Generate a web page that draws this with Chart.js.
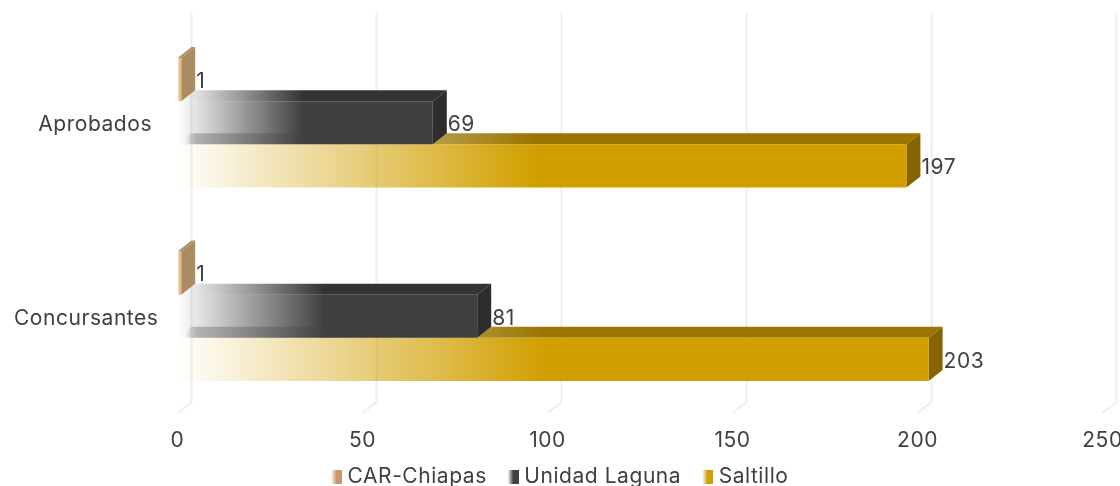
<!DOCTYPE html>
<html>
<head>
<meta charset="utf-8">
<style>
  html,body{margin:0;padding:0;background:#fff;}
  #wrap{width:1120px;height:486px;}
</style>
<script src="https://cdn.jsdelivr.net/npm/chart.js@4/dist/chart.umd.min.js"></script>
</head>
<body>
<div id="wrap"><canvas id="c" width="1120" height="486"></canvas></div>
<script>
var categories = ['Aprobados ', 'Concursantes'];
var carChiapas = [1, 1];
var unidadLaguna = [69, 81];
var saltillo = [197, 203];

var DX = 14, DY = 11, FADE = 0.49;
var FONT = {family: 'Inter', size: 21};
var SPACING = '0.55px';

function rgba(rgb, a){ return 'rgba(' + rgb.join(',') + ',' + a + ')'; }

function fade(ctx, x0, x1, rgb){
  var g = ctx.createLinearGradient(x0, 0, x1, 0);
  g.addColorStop(0, rgba(rgb, 0));
  g.addColorStop(FADE, rgba(rgb, 1));
  g.addColorStop(1, rgba(rgb, 1));
  return g;
}

function frontFill(rgb){
  return function(c){
    var xs = c.chart.scales.x;
    if(!xs || c.parsed === undefined) return rgba(rgb, 1);
    return fade(c.chart.ctx, xs.getPixelForValue(0), xs.getPixelForValue(c.parsed.x), rgb);
  };
}

function swatch(rgb){
  var cv = document.createElement('canvas');
  cv.width = 11; cv.height = 14;
  var x = cv.getContext('2d');
  x.fillStyle = fade(x, 0, 11, rgb);
  x.fillRect(0, 0, 11, 14);
  return cv;
}

var faces = [
  {front: [236, 190, 135], top: [176, 143, 100], side: [169, 140, 98], key: [196, 150, 105], floor: 0},
  {front: [64, 64, 64], top: [51, 51, 51], side: [45, 45, 45], key: [64, 64, 64], floor: 0.3},
  {front: [209, 159, 0], top: [154, 117, 0], side: [134, 101, 0], key: [209, 159, 0], floor: 0}
];

function quad(ctx, x0, x1, y){
  ctx.beginPath();
  ctx.moveTo(x0, y);
  ctx.lineTo(x1, y);
  ctx.lineTo(x1 + DX, y - DY);
  ctx.lineTo(x0 + DX, y - DY);
  ctx.closePath();
  ctx.fill();
}

function noPadding(s){
  s.paddingLeft = s.paddingRight = s.paddingTop = s.paddingBottom = 0;
}

var bars3d = {
  id: 'bars3d',
  beforeUpdate: function(chart){ chart.ctx.letterSpacing = SPACING; },
  afterLayout: function(chart){
    chart.legend.top = 440.5;
    chart.legend.left += 11;
    chart.legend.right += 11;
  },
  beforeDatasetsDraw: function(chart){
    var ctx = chart.ctx, xs = chart.scales.x, area = chart.chartArea;
    ctx.save();
    ctx.strokeStyle = '#eeeeee';
    ctx.lineWidth = 2;
    xs.ticks.forEach(function(t, i){
      var px = xs.getPixelForTick(i);
      ctx.beginPath();
      ctx.moveTo(px, area.bottom);
      ctx.lineTo(px + DX, area.bottom - DY);
      ctx.lineTo(px + DX, 13);
      ctx.stroke();
    });
    for(var d = chart.data.datasets.length - 1; d >= 0; d--){
      chart.getDatasetMeta(d).data.forEach(function(bar, i){
        var top = bar.y - bar.height / 2, bot = bar.y + bar.height / 2;
        // the bar above hides the start of this bar's top face
        var from = d > 0 ? chart.getDatasetMeta(d - 1).data[i].x : bar.base;
        ctx.fillStyle = fade(ctx, bar.base, bar.x, faces[d].top);
        quad(ctx, from, bar.x, top);
        if(faces[d].floor){
          var g = ctx.createLinearGradient(bar.base + 8, 0, bar.base + DX + 4, 0);
          g.addColorStop(0, rgba(faces[d].front, 0));
          g.addColorStop(1, rgba(faces[d].front, faces[d].floor));
          ctx.fillStyle = g;
          quad(ctx, bar.base, bar.x, bot);
        }
        ctx.fillStyle = rgba(faces[d].side, 1);
        ctx.beginPath();
        ctx.moveTo(bar.x, top);
        ctx.lineTo(bar.x + DX, top - DY);
        ctx.lineTo(bar.x + DX, bot - DY);
        ctx.lineTo(bar.x, bot);
        ctx.closePath();
        ctx.fill();
      });
    }
    ctx.restore();
  },
  afterDatasetsDraw: function(chart){
    var ctx = chart.ctx;
    ctx.save();
    ctx.fillStyle = '#404040';
    ctx.font = FONT.size + 'px ' + FONT.family;
    ctx.textAlign = 'left';
    ctx.textBaseline = 'middle';
    chart.data.datasets.forEach(function(ds, d){
      chart.getDatasetMeta(d).data.forEach(function(bar, i){
        ctx.fillText(ds.data[i], bar.x + DX + 1, bar.y + 2);
      });
    });
    ctx.restore();
  }
};

new Chart(document.getElementById('c'), {
  type: 'bar',
  plugins: [bars3d],
  data: {
    labels: categories,
    datasets: [
      {label: 'CAR-Chiapas', data: carChiapas, backgroundColor: frontFill(faces[0].front)},
      {label: 'Unidad Laguna', data: unidadLaguna, backgroundColor: frontFill(faces[1].front)},
      {label: 'Saltillo', data: saltillo, backgroundColor: frontFill(faces[2].front)}
    ]
  },
  options: {
    indexAxis: 'y',
    responsive: false,
    animation: false,
    devicePixelRatio: 1,
    layout: {autoPadding: false, padding: {top: 26, right: 17.5, left: 0, bottom: -25}},
    categoryPercentage: 0.67,
    barPercentage: 1,
    plugins: {
      tooltip: {enabled: false},
      legend: {
        position: 'bottom',
        labels: {
          color: '#404040',
          font: FONT,
          padding: 26,
          usePointStyle: true,
          pointStyleWidth: 1,
          generateLabels: function(chart){
            return chart.data.datasets.map(function(ds, i){
              return {text: ds.label, pointStyle: swatch(faces[i].key), fontColor: '#404040', datasetIndex: i, lineWidth: 0};
            });
          }
        }
      }
    },
    scales: {
      x: {
        min: 0, max: 250,
        grid: {display: false, tickLength: 0},
        border: {display: false},
        ticks: {stepSize: 50, color: '#404040', font: FONT, padding: 15, maxRotation: 0},
        afterFit: function(s){ s.height = 41; noPadding(s); }
      },
      y: {
        grid: {display: false, tickLength: 0},
        border: {display: false},
        ticks: {color: '#404040', font: FONT, padding: 19, labelOffset: 2},
        afterFit: function(s){ s.width = 177.5; noPadding(s); }
      }
    }
  }
});
</script>
</body>
</html>
